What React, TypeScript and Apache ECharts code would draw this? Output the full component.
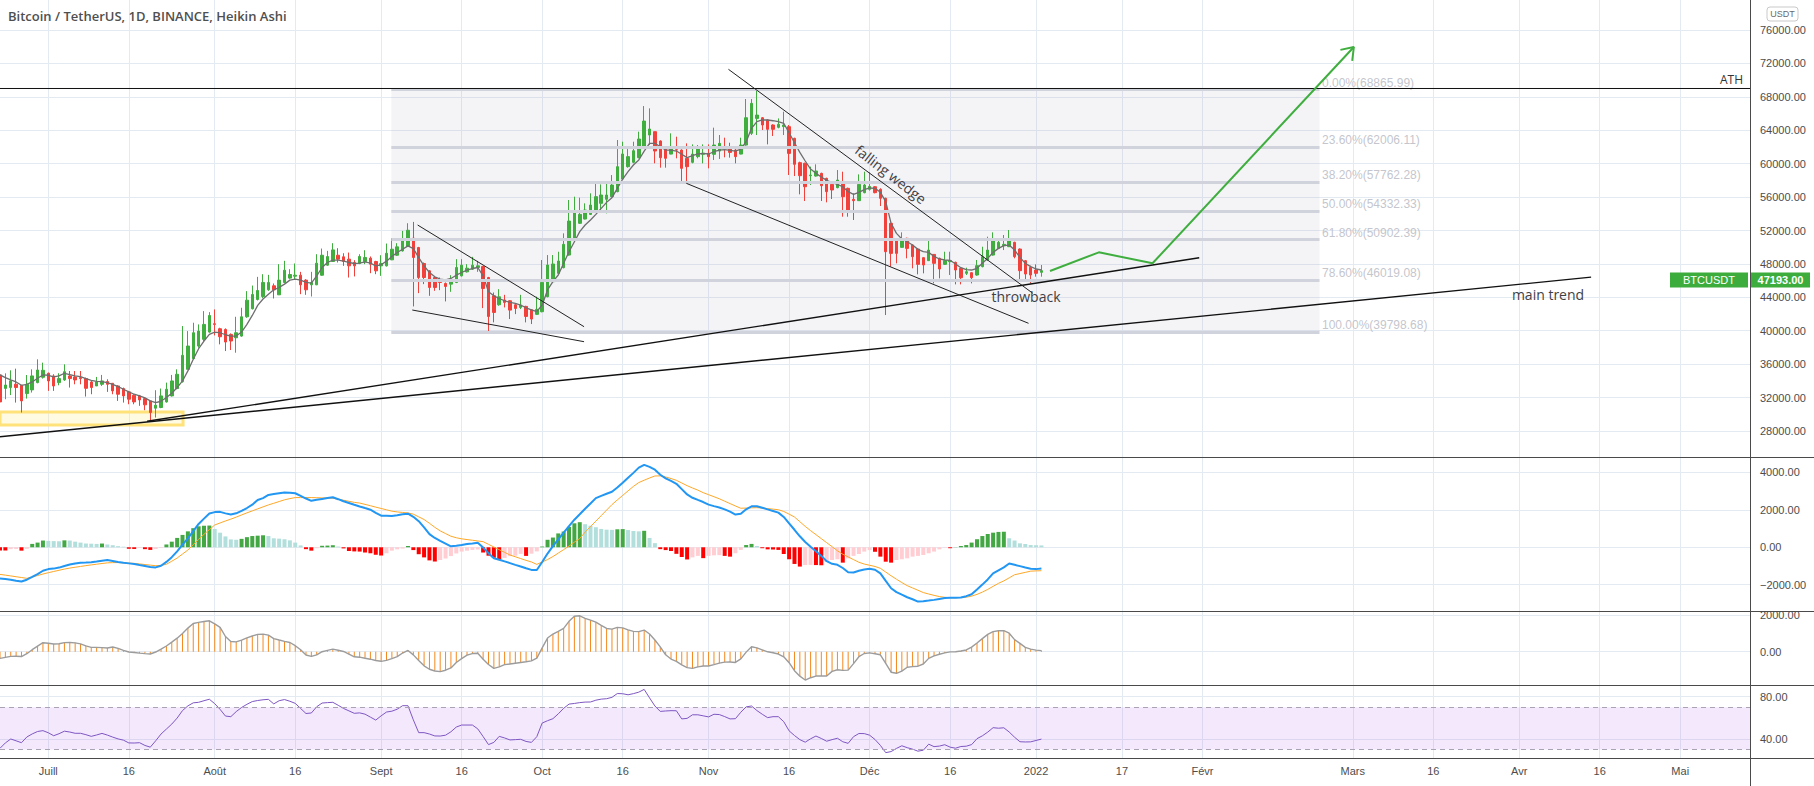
import React, { useEffect, useRef } from "react";
import * as echarts from "echarts";

// ---------------- data ----------------
// day index 0 = 2021-06-22
const haOpen = [34710,33100,33200,33600,33470,32480,32920,33790,34430,34910,
34590,33790,34110,34590,34470,34390,34270,33870,33390,33590,
33910,33710,33390,33080,32680,32280,32200,31880,31600,30730,
30810,31480,32200,33080,33910,35380,36660,38170,38970,39840,
40840,40240,40160,39560,39160,39360,41670,42630,43740,44100,
44900,45380,44300,45780,46300,46530,46650,46060,45500,45500,
46650,47850,48290,49040,48850,48570,48170,48050,48290,48690,
48290,47770,47770,48490,49040,49560,50080,51080,49960,48050,
47170,46370,45860,45660,45580,45780,46570,47050,47370,47570,
47690,46370,44180,43110,43670,43590,43110,42790,42910,42510,
41960,42280,44080,45870,46870,47550,49060,50980,52860,53370,
53930,54330,55250,55730,56050,56650,58160,59640,60160,60720,
62030,63430,63830,62710,61750,61150,61670,61630,60640,60160,
60840,61120,61240,61120,61510,62030,61950,61630,61150,62230,
63630,65420,65500,65230,64630,64350,64430,64430,63030,60120,
60040,58560,58520,58840,58240,57520,57130,57640,57050,55730,
55570,56530,56930,57240,56930,55850,52860,50860,49980,51060,
50260,49780,48750,48390,49140,48670,47950,48270,48190,47470,
46870,46950,46670,47670,48470,49060,49860,50180,50060,50580,
49780,48390,47590,47270,46990];
const haClose = [31480,33500,34000,33200,31600,33590,34590,35300,35270,33990,
33390,34270,35100,34270,34110,34270,33110,33200,33870,33990,
33590,32800,32400,32200,31800,31480,31720,31130,30210,31090,
32200,33000,33990,34790,37060,38170,39760,39960,40760,41830,
40760,39280,38650,38770,39760,41670,43660,44340,44820,45780,
45780,44900,46060,47250,46730,46650,45500,44900,45780,48090,
49040,48880,49680,48570,48290,47770,47770,48890,48770,47970,
47170,48050,49280,49760,50040,50880,52030,48770,46370,46370,
45180,45180,45780,45300,46100,47570,47850,47490,47850,47770,
45060,41710,42190,44060,43390,42470,42670,43070,41710,41400,
42560,45790,47870,47990,48350,50340,53130,54330,53930,54450,
55050,56050,56250,56250,57440,59640,61160,60840,61550,62950,
65100,64150,61510,60720,60640,61990,61630,59440,59640,61150,
61750,61240,60840,62230,62430,61830,61350,60840,62230,65500,
67220,65820,64630,64110,64110,64710,64630,61230,59920,58560,
57240,58640,59120,57360,56650,56850,58040,56050,54250,55570,
57520,57440,57280,56530,55850,49460,49260,49260,50780,49860,
48870,47950,47870,49660,48070,47390,48390,48390,47270,46350,
47070,46350,47790,48870,49660,50860,50580,50340,50980,48870,
47190,46790,46670,46870,47193];
const haLow = [28900,31800,32300,31400,30210,31880,32600,33710,34270,32800,
32800,33470,34000,33200,33590,33590,32120,32400,33390,33390,
32680,32400,31600,31400,31200,31200,31010,30490,29300,29610,
30730,31400,32120,33000,33790,35380,36580,37970,38770,39760,
39440,38370,37570,37690,37370,39280,41550,42550,43620,43900,
44780,43860,44300,45700,46170,46100,44380,44300,44100,45460,
46570,47770,48250,48170,47770,46370,46500,47970,47970,46890,
46770,46570,47690,48450,48960,49480,50040,42910,44500,45580,
44180,44780,44860,43510,44660,45700,46490,46970,47290,47050,
42710,39720,41000,42990,42790,41400,41990,42590,41000,40800,
41880,42200,44000,45790,46790,47470,48990,50900,52780,53330,
53850,54250,54170,54050,55930,56570,58120,59520,60040,60640,
61950,62230,60040,59520,59520,61120,60640,57920,57920,60040,
60640,60040,59440,60440,60560,60760,60720,60040,61120,62150,
63430,63430,64030,62310,63310,64230,63430,58640,58520,56330,
55530,57440,58440,55530,55370,55770,57050,53650,53650,53260,
55530,56450,56770,56450,54930,41880,47670,48070,49940,48670,
47470,46750,46870,48350,45670,46270,47870,46670,45550,45550,
46670,45670,46590,47590,48390,48990,49780,49660,50020,48670,
46070,46070,45670,46470,46470];
const haHigh = [34710,34900,35260,35460,33470,34700,35380,36580,36180,34990,
34790,34910,35980,35180,35180,35180,34390,33990,34470,34710,
34190,33710,33470,33200,32800,32400,32320,32000,31600,32880,
33080,33790,34710,35380,40560,39960,40960,40760,42350,42230,
42550,40360,40280,39680,41670,42750,44740,45410,46450,46770,
46690,45660,47970,48370,47370,48050,47050,46170,47050,49160,
49840,49560,50480,49880,49280,49360,48450,49160,49640,48890,
48370,49040,50440,51080,50480,51950,52870,53030,50040,48170,
47250,46450,46370,45780,46650,48570,48570,47970,48850,48370,
47770,46450,44580,44980,44300,43670,43310,44300,42990,42590,
44080,48470,49060,49060,49460,51660,55650,56050,55930,55250,
56450,57760,57520,57640,58640,62830,62630,62110,62630,63830,
66900,66620,63830,62790,61830,63630,63230,61710,62430,62310,
62230,62310,62310,64310,63430,63110,62510,61830,63110,67740,
67740,69020,65580,65300,64710,65420,66220,64630,63110,60240,
60120,59640,59920,58920,58320,57600,59240,59040,57130,56450,
58720,59040,58960,57320,57050,55930,52940,50940,51780,51140,
50340,49860,48790,50740,49180,48750,49460,49460,48270,47550,
47550,46990,48470,50060,51260,51780,50980,51460,52060,50660,
49860,48470,47790,47950,47870];
const maLine = [34710,34390,34110,33870,33470,33590,33870,34310,34710,34670,
34470,34590,34910,34750,34590,34510,34270,34070,33950,33910,
33790,33590,33310,33000,32680,32400,32200,31960,31600,31400,
31560,32000,32520,33200,33990,35190,36580,37850,38770,39560,
39840,39760,39520,39360,39360,39840,40760,41830,43030,43800,
44380,44900,45180,45580,46060,46180,46060,45780,45700,46570,
47570,48170,48450,48450,48330,48170,48050,48090,48250,48090,
47770,47890,48330,48890,49360,49760,50160,49840,48760,47770,
46970,46450,46180,46100,46260,46650,46970,47250,47450,47570,
46570,44660,44180,43860,43590,43390,43270,43070,42750,42510,
42280,43080,44880,45870,46670,48070,49460,50660,51860,52660,
53260,53930,54650,55370,55930,57040,58160,59040,59840,60440,
61510,62430,62430,62030,61630,61630,61510,61120,60720,60960,
61160,61240,61160,61430,61630,61670,61590,61510,61750,62630,
64230,65030,65230,65230,65140,65030,64830,63700,62500,61350,
60320,59360,58840,58400,58000,57720,57520,57240,56650,56330,
56570,56890,57090,57050,56570,55450,52860,51660,50980,50660,
50260,49740,49460,49380,48900,48590,48470,48430,47990,47550,
47310,47270,47470,48070,48670,49380,49860,50180,50260,49660,
48790,48070,47670,47390,47270];
const macdLine = [-1662,-1690,-1728,-1786,-1830,-1730,-1585,-1428,-1252,-1166,
-1139,-1084,-998,-923,-863,-820,-813,-797,-759,-720,
-685,-731,-781,-824,-859,-895,-948,-998,-1055,-1073,
-984,-781,-528,-217,139,478,862,1245,1530,1806,
1878,1892,1810,1749,1812,1940,2097,2275,2525,2625,
2796,2839,2882,2924,2917,2885,2744,2603,2479,2532,
2582,2625,2668,2568,2457,2363,2270,2179,2093,2008,
1842,1689,1682,1674,1710,1767,1794,1628,1395,1066,
705,496,341,198,54,81,124,170,205,241,
-16,-315,-583,-670,-754,-845,-939,-1030,-1123,-1207,
-1216,-788,-335,62,416,776,1132,1473,1760,2058,
2338,2623,2742,2858,2963,3188,3445,3709,3973,4254,
4401,4294,4140,3873,3682,3540,3391,3106,2821,2643,
2528,2416,2277,2197,2126,2024,1901,1748,1789,2028,
2184,2195,2110,2022,1937,1851,1619,1275,935,587,
285,34,-214,-460,-743,-882,-935,-1107,-1333,-1344,
-1252,-1187,-1144,-1198,-1396,-1795,-2188,-2393,-2532,-2669,
-2776,-2901,-2883,-2847,-2808,-2758,-2708,-2696,-2696,-2678,
-2610,-2510,-2254,-1993,-1718,-1394,-1227,-1071,-865,-936,
-1007,-1080,-1141,-1166,-1127];
const signalLine = [-1448,-1487,-1530,-1572,-1615,-1658,-1588,-1508,-1428,-1357,
-1292,-1228,-1164,-1109,-1066,-1023,-980,-941,-904,-866,
-831,-820,-816,-832,-843,-859,-890,-922,-952,-984,
-973,-905,-745,-574,-360,-146,139,424,692,941,
1191,1298,1405,1503,1610,1726,1837,1944,2051,2158,
2261,2350,2443,2534,2600,2653,2653,2653,2653,2648,
2635,2627,2618,2568,2513,2454,2398,2361,2290,2219,
2143,2072,2001,1928,1887,1860,1833,1767,1625,1482,
1280,1066,876,733,590,508,451,412,375,337,
300,157,15,-128,-271,-413,-508,-604,-699,-785,
-913,-785,-656,-495,-310,-125,64,275,467,810,
1102,1396,1691,1985,2279,2529,2769,3010,3251,3456,
3580,3700,3807,3812,3755,3670,3575,3433,3290,3165,
3051,2915,2808,2700,2589,2461,2332,2204,2083,2094,
2106,2115,2097,2067,2036,2006,1912,1769,1616,1366,
1116,888,674,460,246,32,-187,-369,-515,-658,
-800,-897,-961,-1025,-1123,-1323,-1522,-1706,-1884,-2048,
-2172,-2294,-2418,-2494,-2567,-2632,-2671,-2694,-2696,-2680,
-2666,-2607,-2514,-2393,-2250,-2086,-1925,-1792,-1631,-1467,
-1403,-1339,-1275,-1260,-1252];
const macdHist = [-170,-170,-100,-90,-180,-80,180,250,360,340,
330,320,370,360,300,250,200,190,180,200,
150,110,60,30,-80,-90,-40,-100,-140,-90,
-30,150,300,500,660,850,1020,1120,1150,1160,
980,780,580,420,400,450,540,600,620,640,
600,480,460,430,370,250,100,-100,-180,-50,
80,90,110,40,-60,-200,-220,-230,-280,-320,
-400,-440,-320,-180,-110,-70,70,-150,-370,-540,
-700,-760,-680,-600,-470,-330,-230,-180,-140,-120,
-280,-450,-560,-660,-570,-470,-450,-350,-460,-340,
-220,40,400,520,740,840,1090,1280,1340,1230,
1150,1070,980,940,930,960,970,920,870,850,
880,500,220,-100,-150,-200,-350,-520,-650,-540,
-460,-580,-460,-430,-420,-460,-500,-320,-140,120,
180,70,-50,-110,-120,-140,-360,-640,-890,-1030,
-950,-940,-950,-960,-770,-680,-640,-820,-590,-460,
-360,-230,-150,-240,-500,-770,-820,-680,-640,-590,
-500,-460,-410,-320,-230,-110,-20,-50,10,70,
120,250,430,600,710,780,820,830,480,360,
210,180,120,110,100];
const oscValues = [-364,-310,-255,-246,-263,-110,109,304,490,461,
421,432,497,499,481,423,318,236,236,221,
205,258,185,76,-18,-45,-75,-104,-126,-18,
136,312,519,737,995,1286,1540,1596,1649,1684,
1517,1326,828,552,534,635,757,857,944,955,
902,713,637,566,501,326,103,-177,-253,-175,
0,70,139,81,11,-137,-277,-299,-357,-408,
-482,-524,-471,-375,-266,-73,69,-174,-482,-769,
-958,-1051,-1087,-1009,-886,-586,-377,-191,-101,-82,
-410,-695,-906,-828,-703,-670,-626,-586,-546,-502,
-355,205,744,962,1111,1271,1653,1931,1956,1820,
1725,1607,1435,1266,1233,1326,1298,1189,1109,1093,
1180,962,639,261,-168,-402,-524,-717,-866,-906,
-830,-782,-782,-704,-624,-570,-561,-586,-393,-23,
268,210,101,-5,-57,-128,-277,-597,-1036,-1333,
-1545,-1418,-1327,-1327,-1327,-1073,-986,-1017,-1002,-651,
-273,-99,-61,-113,-168,-642,-1118,-1176,-1056,-846,
-815,-789,-670,-363,-232,-138,-67,-9,0,36,
94,248,474,712,942,1091,1144,1144,1006,659,
454,236,139,83,61];
const rsiValues = [31.2,36.3,40.0,38.3,36.5,41.9,44.8,47.1,47.9,45.9,
43.1,45.0,47.4,46.6,45.4,45.4,44.1,42.5,43.8,45.3,
43.7,41.8,40.1,38.9,36.3,36.2,36.5,33.9,32.3,38.3,
44.7,49.4,54.1,59.8,66.9,71.3,74.2,74.7,76.2,77.6,
73.4,68.0,61.7,61.1,65.9,69.8,72.8,75.4,76.4,77.1,
77.5,73.2,76.2,77.3,75.7,73.7,68.9,64.1,64.6,70.5,
74.0,74.4,74.7,71.9,68.9,66.6,64.3,64.7,63.5,60.7,
57.9,61.9,65.5,66.3,68.2,71.5,71.5,58.1,46.0,46.0,
44.7,42.9,42.8,43.6,46.8,51.3,53.2,53.2,53.2,49.6,
42.3,34.7,36.8,42.5,41.0,39.1,39.4,39.7,37.7,36.8,
42.2,55.1,57.3,59.2,63.8,69.0,73.0,73.6,74.4,74.9,
75.0,76.7,77.7,78.1,79.4,83.0,82.8,81.8,82.9,84.3,
86.9,78.9,71.2,66.1,66.5,66.8,66.7,59.0,59.5,62.9,
62.9,61.9,60.9,63.4,63.1,61.2,59.0,59.2,65.3,70.4,
71.2,66.9,63.4,60.2,61.1,61.1,56.4,47.7,43.3,39.4,
37.0,40.2,42.8,40.5,37.9,39.4,40.7,37.4,35.9,42.2,
45.2,45.1,43.6,39.5,34.0,27.1,28.1,31.1,33.6,31.8,
30.4,28.5,29.4,35.1,32.8,33.3,34.6,32.3,31.3,32.9,
33.2,34.7,40.3,43.0,46.5,50.7,50.2,50.6,46.6,41.7,
37.4,37.2,37.3,38.6,39.9];

const fibRatios = ["0.00%", "23.60%", "38.20%", "50.00%", "61.80%", "78.60%", "100.00%"];
const fibPrices = [68865.99, 62006.11, 57762.28, 54332.33, 50902.39, 46019.08, 39798.68];
const fibSpan = [72.9, 245.8];

const tickDates = ["2021-07-01","2021-07-16","2021-08-01","2021-08-16","2021-09-01","2021-09-16",
  "2021-10-01","2021-10-16","2021-11-01","2021-11-16","2021-12-01","2021-12-16","2022-01-01",
  "2022-01-17","2022-02-01","2022-03-01","2022-03-16","2022-04-01","2022-04-16","2022-05-01"];
const tickLabels = ["Juill","16","Août","16","Sept","16","Oct","16","Nov","16","Déc","16","2022",
  "17","Févr","Mars","16","Avr","16","Mai"];

const lastPrice = 47193;
const athPrice = 69000;

// drawn lines, as [dayIndex, price]
const athLine = [[0, athPrice], [326, athPrice]];
const mainTrend = [[0, 27317], [296.4, 46421]];
const supportLine = [[27.4, 29158], [223.4, 48744]];
const septWedgeTop = [[77.8, 52658], [108.8, 40484]];
const septWedgeBottom = [[76.8, 42483], [108.8, 38688]];
const wedgeTop = [[135.7, 71297], [192.4, 44482]];
const wedgeBottom = [[127.85, 57650], [191.6, 40891]];
const projection = [[195.6, 47152], [204.7, 49389], [214.7, 48073], [252.2, 73967]];
const arrowHead = [[249.7, 73620], [252.2, 73967], [251.9, 72303]];
const supportBox = [[-0.3, 30272], [34.1, 28716]];

// ---------------- chart ----------------
const N_DAYS = 327;
const dates: string[] = [];
for (let k = 0; k < N_DAYS; k++) {
  dates.push(new Date(Date.UTC(2021, 5, 22 + k)).toISOString().slice(0, 10));
}
const tickSet = new Set(tickDates);
const tickText: Record<string, string> = {};
tickDates.forEach((d, i) => (tickText[d] = tickLabels[i]));

const GRID_COLOR = "#e4eaf1";
const AX_FONT = "Liberation Sans";
const AX_COLOR = "#4d4d4d";
const UP = "#3fae3f";
const DOWN = "#f2403a";
const PLOT_W = 1750;

function fmt2(v: number) {
  return v < 0 ? "\u2212" + Math.abs(v).toFixed(2) : v.toFixed(2);
}

function valueY(gridIndex: number, min: number, max: number, interval: number) {
  return {
    gridIndex,
    type: "value",
    position: "right",
    min,
    max,
    interval,
    axisLine: { show: false },
    axisTick: { show: false },
    axisLabel: {
      color: AX_COLOR,
      fontFamily: AX_FONT,
      fontSize: 11,
      margin: 10,
      formatter: (v: number) => (v <= min || v >= max ? "" : fmt2(v)),
    },
    splitLine: { show: true, showMinLine: false, showMaxLine: false, lineStyle: { color: GRID_COLOR, width: 1 } },
  };
}

function hiddenX(gridIndex: number) {
  return { gridIndex, type: "value", min: 0, max: N_DAYS - 1, show: false };
}

function drawn(points: number[][], color: string, width: number, z = 6) {
  return {
    type: "line",
    xAxisIndex: 1,
    yAxisIndex: 1,
    data: points,
    symbol: "none",
    silent: true,
    clip: false,
    z,
    lineStyle: { color, width },
  };
}

function histColor(i: number) {
  const v = macdHist[i];
  const p = i > 0 ? macdHist[i - 1] : v;
  if (v >= 0) return v >= p ? "#43a843" : "#b2dfdb";
  return v <= p ? "#ff0000" : "#ffcdd2";
}

function buildOption() {
  const idx = haOpen.map((_, i) => i);
  const textFont = "'Open Sans', sans-serif";
  return {
    animation: false,
    backgroundColor: "#ffffff",
    grid: [
      { left: 0, top: 0, width: PLOT_W, height: 758, containLabel: false, outerBoundsMode: "none" },
      { left: 0, top: -3.4, width: PLOT_W, height: 467.8, containLabel: false, outerBoundsMode: "none" },
      { left: 0, top: 434.9, width: PLOT_W, height: 187.3, containLabel: false, outerBoundsMode: "none" },
      { left: 0, top: 578.3, width: PLOT_W, height: 110.1, containLabel: false, outerBoundsMode: "none" },
      { left: 0, top: 654.4, width: PLOT_W, height: 126.9, containLabel: false, outerBoundsMode: "none" },
    ],
    xAxis: [
      {
        gridIndex: 0,
        type: "category",
        data: dates,
        boundaryGap: false,
        axisLine: { show: false },
        axisTick: { show: false },
        axisLabel: {
          interval: (_i: number, v: string) => tickSet.has(v),
          formatter: (v: string) => tickText[v] || "",
          color: AX_COLOR,
          fontFamily: AX_FONT,
          fontSize: 11,
          margin: 7,
        },
        splitLine: {
          show: true,
          interval: (_i: number, v: string) => tickSet.has(v),
          lineStyle: { color: GRID_COLOR, width: 1 },
        },
      },
      hiddenX(1),
      hiddenX(2),
      hiddenX(3),
      hiddenX(4),
    ],
    yAxis: [
      { gridIndex: 0, type: "value", show: false },
      valueY(1, 24000, 80000, 4000),
      valueY(2, -4000, 6000, 2000),
      valueY(3, -2000, 4000, 2000),
      valueY(4, 0, 120, 40),
    ],
    series: [
      // fibonacci box + levels
      {
        type: "line",
        xAxisIndex: 1,
        yAxisIndex: 1,
        data: [[fibSpan[0], fibPrices[0]]],
        symbol: "none",
        silent: true,
        z: 1,
        markArea: {
          silent: true,
          itemStyle: { color: "rgba(110,110,150,0.075)" },
          data: [[{ coord: [fibSpan[0], fibPrices[0]] }, { coord: [fibSpan[1], fibPrices[fibPrices.length - 1]] }]],
        },
        markLine: {
          silent: true,
          symbol: ["none", "none"],
          label: { show: false },
          lineStyle: { color: "#d1d3dc", width: 3, type: "solid" },
          data: fibPrices.map((p) => [{ coord: [fibSpan[0], p] }, { coord: [fibSpan[1], p] }]),
        },
      },
      // yellow support zone
      {
        type: "line",
        xAxisIndex: 1,
        yAxisIndex: 1,
        data: [[0, supportBox[0][1]]],
        symbol: "none",
        silent: true,
        z: 2,
        markArea: {
          silent: true,
          itemStyle: { color: "rgba(255,236,150,0.28)", borderColor: "#ffe27a", borderWidth: 3 },
          data: [[{ coord: supportBox[0] }, { coord: supportBox[1] }]],
        },
      },
      // Heikin Ashi candles
      {
        type: "candlestick",
        xAxisIndex: 1,
        yAxisIndex: 1,
        barWidth: 3,
        z: 3,
        encode: { x: 0, y: [1, 2, 3, 4] },
        data: idx.map((i) => [i, haOpen[i], haClose[i], haLow[i], haHigh[i]]),
        itemStyle: { color: UP, color0: DOWN, borderColor: UP, borderColor0: DOWN, borderWidth: 1 },
        silent: true,
      },
      // moving average on price
      {
        type: "line",
        xAxisIndex: 1,
        yAxisIndex: 1,
        data: idx.map((i) => [i, maLine[i]]),
        symbol: "none",
        silent: true,
        z: 4,
        lineStyle: { color: "#6e6e6e", width: 1.3 },
      },
      // drawings
      drawn(athLine, "#111111", 1),
      drawn(mainTrend, "#111111", 1.4),
      drawn(supportLine, "#111111", 1.4),
      drawn(septWedgeTop, "#222222", 1),
      drawn(septWedgeBottom, "#222222", 1),
      drawn(wedgeTop, "#222222", 1),
      drawn(wedgeBottom, "#222222", 1),
      // fib labels
      {
        type: "scatter",
        xAxisIndex: 1,
        yAxisIndex: 1,
        symbolSize: 1,
        itemStyle: { color: "rgba(0,0,0,0)" },
        silent: true,
        z: 5,
        data: fibPrices.map((p) => [fibSpan[1], p]),
        label: {
          show: true,
          position: "right",
          distance: 2,
          offset: [0, -7],
          color: "#b4b6c0",
          fontFamily: AX_FONT,
          fontSize: 12,
          formatter: (p: any) => `${fibRatios[p.dataIndex]}(${fibPrices[p.dataIndex].toFixed(2)})`,
        },
      },
      drawn(projection, "#3fae3f", 2, 7),
      drawn(arrowHead, "#3fae3f", 2, 7),
      // MACD
      {
        type: "bar",
        xAxisIndex: 2,
        yAxisIndex: 2,
        barWidth: 4,
        silent: true,
        z: 2,
        data: idx.map((i) => ({ value: [i, macdHist[i]], itemStyle: { color: histColor(i) } })),
      },
      {
        type: "line",
        xAxisIndex: 2,
        yAxisIndex: 2,
        data: idx.map((i) => [i, signalLine[i]]),
        symbol: "none",
        silent: true,
        z: 3,
        lineStyle: { color: "#ffa726", width: 1 },
      },
      {
        type: "line",
        xAxisIndex: 2,
        yAxisIndex: 2,
        data: idx.map((i) => [i, macdLine[i]]),
        symbol: "none",
        silent: true,
        z: 4,
        lineStyle: { color: "#2196f3", width: 2 },
      },
      // oscillator panel
      {
        type: "bar",
        xAxisIndex: 3,
        yAxisIndex: 3,
        barWidth: 1,
        silent: true,
        z: 2,
        itemStyle: { color: "#f5891f" },
        data: idx.map((i) => [i, oscValues[i]]),
      },
      {
        type: "line",
        xAxisIndex: 3,
        yAxisIndex: 3,
        data: idx.map((i) => [i, oscValues[i]]),
        symbol: "none",
        silent: true,
        z: 3,
        lineStyle: { color: "#9c9c9c", width: 1.4 },
      },
      // RSI
      {
        type: "line",
        xAxisIndex: 4,
        yAxisIndex: 4,
        data: idx.map((i) => [i, rsiValues[i]]),
        symbol: "none",
        silent: true,
        z: 3,
        lineStyle: { color: "#7e57c2", width: 1 },
        markArea: {
          silent: true,
          itemStyle: { color: "rgba(190,120,245,0.17)" },
          data: [[{ yAxis: 30 }, { yAxis: 70 }]],
        },
        markLine: {
          silent: true,
          symbol: ["none", "none"],
          label: { show: false },
          lineStyle: { color: "#aaa3b3", width: 1, type: [5, 4] },
          data: [{ yAxis: 70 }, { yAxis: 30 }],
        },
      },
    ],
    graphic: [
      // panel separators and price scale border
      ...[457.5, 611.5, 685.5, 758.5].map((y) => ({
        type: "line",
        z: 100,
        silent: true,
        shape: { x1: 0, y1: y, x2: 1814, y2: y },
        style: { stroke: "#4a4a4a", lineWidth: 1 },
      })),
      {
        type: "line",
        z: 100,
        silent: true,
        shape: { x1: 1750.5, y1: 0, x2: 1750.5, y2: 786 },
        style: { stroke: "#4a4a4a", lineWidth: 1 },
      },
      {
        type: "text",
        z: 100,
        x: 8,
        y: 16,
        style: {
          text: "Bitcoin / TetherUS, 1D, BINANCE, Heikin Ashi",
          fill: "#4f4f4f",
          font: `600 13px ${textFont}`,
          align: "left",
          textAlign: "left",
          verticalAlign: "middle",
          textVerticalAlign: "middle",
        },
      },
      {
        type: "rect",
        z: 100,
        shape: { x: 1767, y: 7, width: 31, height: 14, r: 3 },
        style: { fill: "#ffffff", stroke: "#c9c9c9", lineWidth: 1 },
      },
      {
        type: "text",
        z: 101,
        x: 1782.5,
        y: 14,
        style: {
          text: "USDT",
          fill: "#6a6a6a",
          font: `9px ${AX_FONT}`,
          align: "center",
          textAlign: "center",
          verticalAlign: "middle",
          textVerticalAlign: "middle",
        },
      },
      {
        type: "rect",
        z: 100,
        shape: { x: 1670, y: 272.5, width: 78, height: 15 },
        style: { fill: "#3cac3c" },
      },
      {
        type: "text",
        z: 101,
        x: 1709,
        y: 280,
        style: {
          text: "BTCUSDT",
          fill: "#ffffff",
          font: `11px ${AX_FONT}`,
          align: "center",
          textAlign: "center",
          verticalAlign: "middle",
          textVerticalAlign: "middle",
        },
      },
      {
        type: "rect",
        z: 100,
        shape: { x: 1751, y: 272.5, width: 59, height: 15 },
        style: { fill: "#3cac3c" },
      },
      {
        type: "text",
        z: 101,
        x: 1780.5,
        y: 280,
        style: {
          text: lastPrice.toFixed(2),
          fill: "#ffffff",
          font: `bold 11px ${AX_FONT}`,
          align: "center",
          textAlign: "center",
          verticalAlign: "middle",
          textVerticalAlign: "middle",
        },
      },
      {
        type: "text",
        z: 100,
        x: 1743,
        y: 79,
        style: {
          text: "ATH",
          fill: "#333333",
          font: `12px ${textFont}`,
          align: "right",
          textAlign: "right",
          verticalAlign: "middle",
          textVerticalAlign: "middle",
        },
      },
      {
        type: "text",
        z: 100,
        x: 890.8,
        y: 174.2,
        rotation: -0.66,
        style: {
          text: "falling wedge",
          fill: "#3f3f46",
          font: `14px ${textFont}`,
          align: "center",
          textAlign: "center",
          verticalAlign: "middle",
          textVerticalAlign: "middle",
        },
      },
      {
        type: "text",
        z: 100,
        x: 1026,
        y: 296.7,
        style: {
          text: "throwback",
          fill: "#3f3f46",
          font: `14px ${textFont}`,
          align: "center",
          textAlign: "center",
          verticalAlign: "middle",
          textVerticalAlign: "middle",
        },
      },
      {
        type: "text",
        z: 100,
        x: 1548,
        y: 294,
        style: {
          text: "main trend",
          fill: "#3f3f46",
          font: `14px ${textFont}`,
          align: "center",
          textAlign: "center",
          verticalAlign: "middle",
          textVerticalAlign: "middle",
        },
      },
    ],
  };
}

export default function App() {
  const ref = useRef<HTMLDivElement>(null);
  useEffect(() => {
    if (!ref.current) return;
    const chart = echarts.init(ref.current, null, { renderer: "svg" });
    chart.setOption(buildOption() as any);
    return () => chart.dispose();
  }, []);
  return (
    <div
      ref={ref}
      style={{ position: "fixed", left: 0, top: 0, width: 1814, height: 786, background: "#ffffff" }}
    />
  );
}
